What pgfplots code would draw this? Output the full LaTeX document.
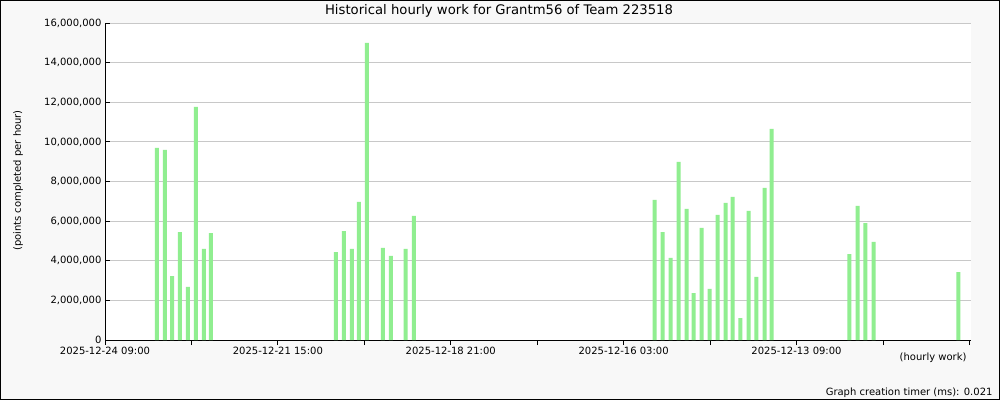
\documentclass[border=0pt]{standalone}
\usepackage{fontspec}
\setmainfont{DejaVu Sans}
\usepackage{pgfplots}
\pgfplotsset{compat=1.18}
\definecolor{bargreen}{RGB}{144,238,144}
\definecolor{bgout}{RGB}{248,248,248}
\definecolor{gridc}{RGB}{200,200,200}
\begin{document}
\fontsize{10}{12}\selectfont
\begin{tikzpicture}[x=1pt,y=1pt]
\fill[bgout] (0,0) rectangle (1000,400);
\draw[black, line width=1pt] (0.5,0.5) rectangle (999.5,399.5);
\useasboundingbox (0,0) rectangle (1000,400);
\begin{axis}[
  at={(105pt,60pt)}, anchor=south west, scale only axis,
  width=866pt, height=317pt,
  xmin=0, xmax=330.6, ymin=0, ymax=16000000,
  axis lines=left, axis line style={-, black, line width=1pt},
  axis background/.style={fill=white},
  ytick={0,2000000,4000000,6000000,8000000,10000000,12000000,14000000,16000000},
  scaled y ticks=false,
  yticklabel style={/pgf/number format/.cd, fixed, 1000 sep={,}, assume math mode=true},
  xtick={0,66,132,198,264,330},
  xticklabels={2025-12-24 09:00,2025-12-21 15:00,2025-12-18 21:00,2025-12-16 03:00,2025-12-13 09:00,{}},
  minor xtick={33,99,165,231,297},
  tick align=inside, major tick length=5pt, minor tick length=5pt,
  tick style={black, line width=0.8pt},
  ymajorgrids, grid style={gridc, line width=0.8pt},
  xticklabel style={yshift=1pt},
  ybar, bar width=4pt,
]
\addplot[fill=bargreen, draw=none] coordinates {
(19.84,9700000) (22.89,9600000) (25.6,3230000) (28.61,5450000) (31.66,2680000) (34.72,11770000) (37.77,4600000) (40.44,5400000)
(88.1,4440000) (91.2,5500000) (94.2,4600000) (96.9,6970000) (99.95,15000000) (106.1,4650000) (109.1,4240000) (114.8,4600000) (117.9,6260000)
(209.8,7070000) (212.9,5450000) (215.9,4140000) (219.0,8990000) (222.0,6620000) (224.7,2370000) (227.8,5660000) (230.8,2580000) (233.9,6310000) (236.9,6920000) (239.6,7220000) (242.6,1110000) (245.7,6520000) (248.7,3180000) (251.8,7680000) (254.5,10660000)
(284.2,4340000) (287.3,6770000) (290.3,5900000) (293.4,4950000) (325.8,3430000)
};
\end{axis}
\node[font=\fontsize{13.2}{15}\selectfont] at (499,389.5) {Historical hourly work for Grantm56 of Team 223518};
\node[rotate=90] at (18,219.5) {(points completed per hour)};
\node[anchor=east] at (970,42) {(hourly work)};
\node[anchor=east] at (996,7) {Graph creation timer (ms): 0.021};
\end{tikzpicture}
\end{document}
